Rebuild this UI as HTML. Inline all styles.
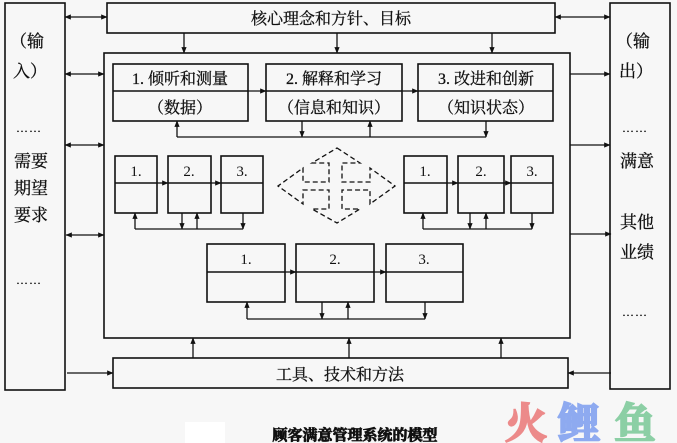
<!DOCTYPE html>
<html><head><meta charset="utf-8"><style>
html,body{margin:0;padding:0;background:#f7f7f7;}
svg{display:block;}
text{font-family:"Liberation Serif","Noto Serif CJK SC",serif;fill:#111;}
</style></head><body>
<svg width="677" height="443" viewBox="0 0 677 443" xmlns="http://www.w3.org/2000/svg">
<defs>
<marker id="a" viewBox="0 0 10 10" refX="9" refY="5" markerWidth="5" markerHeight="5" orient="auto-start-reverse"><path d="M0,1 L10,5 L0,9z" fill="#111"/></marker>
</defs>
<g fill="none" stroke="#111" stroke-width="1.6">
<rect x="5" y="3" width="60" height="387"/>
<rect x="610" y="3" width="60" height="386"/>
<rect x="107" y="3" width="448" height="30"/>
<rect x="104" y="53" width="466" height="285"/>
<rect x="113" y="358" width="455" height="30"/>
<rect x="113" y="64" width="135" height="57"/><line x1="113" y1="91" x2="248" y2="91"/>
<rect x="266" y="64" width="136" height="57"/><line x1="266" y1="91" x2="402" y2="91"/>
<rect x="418" y="64" width="135" height="57"/><line x1="418" y1="91" x2="553" y2="91"/>
<rect x="115" y="156" width="42" height="57"/><line x1="115" y1="183" x2="157" y2="183"/>
<rect x="168" y="156" width="43" height="57"/><line x1="168" y1="183" x2="211" y2="183"/>
<rect x="221" y="156" width="42" height="57"/><line x1="221" y1="183" x2="263" y2="183"/>
<rect x="404" y="156" width="43" height="57"/><line x1="404" y1="183" x2="447" y2="183"/>
<rect x="458" y="156" width="46" height="57"/><line x1="458" y1="183" x2="504" y2="183"/>
<rect x="511" y="156" width="42" height="57"/><line x1="511" y1="183" x2="553" y2="183"/>
<rect x="207" y="244" width="78" height="58"/><line x1="207" y1="272" x2="285" y2="272"/>
<rect x="296" y="244" width="78" height="58"/><line x1="296" y1="272" x2="374" y2="272"/>
<rect x="386" y="244" width="77" height="58"/><line x1="386" y1="272" x2="463" y2="272"/>
</g>
<g fill="none" stroke="#111" stroke-width="1.3">
<line x1="248" y1="91" x2="266" y2="91" marker-end="url(#a)"/>
<line x1="402" y1="91" x2="418" y2="91" marker-end="url(#a)"/>
<line x1="157" y1="183" x2="168" y2="183" marker-end="url(#a)"/>
<line x1="211" y1="183" x2="221" y2="183" marker-end="url(#a)"/>
<line x1="447" y1="183" x2="458" y2="183" marker-end="url(#a)"/>
<line x1="504" y1="183" x2="511" y2="183" marker-end="url(#a)"/>
<line x1="285" y1="272" x2="296" y2="272" marker-end="url(#a)"/>
<line x1="374" y1="272" x2="386" y2="272" marker-end="url(#a)"/>
<polyline points="177,137 486,137"/>
<line x1="177" y1="137" x2="177" y2="121" marker-end="url(#a)"/>
<line x1="302" y1="121" x2="302" y2="137" marker-end="url(#a)"/>
<line x1="370" y1="137" x2="370" y2="121" marker-end="url(#a)"/>
<line x1="486" y1="121" x2="486" y2="137" marker-end="url(#a)"/>
<line x1="135" y1="229" x2="243" y2="229"/>
<line x1="135" y1="229" x2="135" y2="213" marker-end="url(#a)"/>
<line x1="182" y1="213" x2="182" y2="229" marker-end="url(#a)"/>
<line x1="197" y1="229" x2="197" y2="213" marker-end="url(#a)"/>
<line x1="243" y1="213" x2="243" y2="229" marker-end="url(#a)"/>
<line x1="423" y1="229" x2="532" y2="229"/>
<line x1="423" y1="229" x2="423" y2="213" marker-end="url(#a)"/>
<line x1="470" y1="213" x2="470" y2="229" marker-end="url(#a)"/>
<line x1="486" y1="229" x2="486" y2="213" marker-end="url(#a)"/>
<line x1="532" y1="213" x2="532" y2="229" marker-end="url(#a)"/>
<line x1="247" y1="319" x2="425" y2="319"/>
<line x1="247" y1="319" x2="247" y2="302" marker-end="url(#a)"/>
<line x1="322" y1="302" x2="322" y2="319" marker-end="url(#a)"/>
<line x1="348" y1="319" x2="348" y2="302" marker-end="url(#a)"/>
<line x1="425" y1="302" x2="425" y2="319" marker-end="url(#a)"/>
<line x1="184" y1="33" x2="184" y2="53" marker-end="url(#a)"/>
<line x1="337" y1="33" x2="337" y2="53" marker-end="url(#a)"/>
<line x1="492" y1="33" x2="492" y2="53" marker-end="url(#a)"/>
<line x1="193" y1="358" x2="193" y2="338" marker-end="url(#a)"/>
<line x1="349" y1="358" x2="349" y2="338" marker-end="url(#a)"/>
<line x1="501" y1="358" x2="501" y2="338" marker-end="url(#a)"/>
<line x1="65" y1="17" x2="107" y2="17" marker-start="url(#a)" marker-end="url(#a)"/>
<line x1="65" y1="74" x2="104" y2="74" marker-start="url(#a)" marker-end="url(#a)"/>
<line x1="65" y1="145" x2="104" y2="145" marker-start="url(#a)" marker-end="url(#a)"/>
<line x1="66" y1="235" x2="104" y2="235" marker-start="url(#a)" marker-end="url(#a)"/>
<line x1="67" y1="373" x2="113" y2="373" marker-end="url(#a)"/>
<line x1="555" y1="17" x2="610" y2="17" marker-start="url(#a)" marker-end="url(#a)"/>
<line x1="570" y1="74" x2="610" y2="74" marker-end="url(#a)"/>
<line x1="570" y1="145" x2="610" y2="145" marker-end="url(#a)"/>
<line x1="570" y1="234" x2="611" y2="234" marker-end="url(#a)"/>
<line x1="611" y1="373" x2="568" y2="373" marker-end="url(#a)"/>
</g>
<polygon fill="none" stroke="#111" stroke-width="1.3" stroke-dasharray="5,3" points="337,148 360,163 342,163 342,182 370,182 370,168 395,186 370,204 370,190 342,190 342,209 360,209 337,223 312,209 329,209 329,190 303,190 303,204 278,186 303,168 303,182 329,182 329,163 312,163"/>
<g font-size="16" stroke="#111" stroke-width="0.3">
<text x="331" y="24" text-anchor="middle">核心理念和方针、目标</text>
<text x="340" y="380" text-anchor="middle">工具、技术和方法</text>
<text x="180" y="84" text-anchor="middle">1. 倾听和测量</text>
<text x="180" y="113" text-anchor="middle">（数据）</text>
<text x="334" y="84" text-anchor="middle">2. 解释和学习</text>
<text x="334" y="113" text-anchor="middle">（信息和知识）</text>
<text x="486" y="84" text-anchor="middle">3. 改进和创新</text>
<text x="486" y="113" text-anchor="middle">（知识状态）</text>
</g>
<g font-size="15">
<text x="136" y="176" text-anchor="middle">1.</text>
<text x="189" y="176" text-anchor="middle">2.</text>
<text x="242" y="176" text-anchor="middle">3.</text>
<text x="425" y="176" text-anchor="middle">1.</text>
<text x="481" y="176" text-anchor="middle">2.</text>
<text x="532" y="176" text-anchor="middle">3.</text>
<text x="246" y="264" text-anchor="middle">1.</text>
<text x="335" y="264" text-anchor="middle">2.</text>
<text x="424" y="264" text-anchor="middle">3.</text>
</g>
<g font-size="17" font-family="Liberation Sans,Noto Sans CJK SC,sans-serif" stroke="#111" stroke-width="0.3">
<text x="10" y="47">（输</text>
<text x="13" y="77">入）</text>
<text x="16" y="132" font-size="12" letter-spacing="1">……</text>
<text x="14" y="167">需要</text>
<text x="14" y="194">期望</text>
<text x="14" y="221">要求</text>
<text x="16" y="284" font-size="12" letter-spacing="1">……</text>
<text x="616" y="47">（输</text>
<text x="619" y="77">出）</text>
<text x="622" y="132" font-size="12" letter-spacing="1">……</text>
<text x="620" y="167">满意</text>
<text x="620" y="228">其他</text>
<text x="620" y="258">业绩</text>
<text x="622" y="316" font-size="12" letter-spacing="1">……</text>
</g>
<rect x="185" y="422" width="40" height="21" fill="#fff"/>
<text x="355" y="440" text-anchor="middle" font-size="15" font-weight="bold" stroke="#111" stroke-width="0.8" font-family="Liberation Sans,Noto Sans CJK SC,sans-serif">顾客满意管理系统的模型</text>
<g font-size="42" font-weight="bold" font-family="Liberation Sans,Noto Sans CJK SC,sans-serif" stroke-width="2">
<text x="505" y="438" style="fill:#ec8a8a;stroke:#ec8a8a">火</text>
<text x="558" y="438" style="fill:#8eaaf0;stroke:#8eaaf0">鲤</text>
<text x="614" y="438" style="fill:#8ccfa5;stroke:#8ccfa5">鱼</text>
</g>
</svg>
</body></html>
